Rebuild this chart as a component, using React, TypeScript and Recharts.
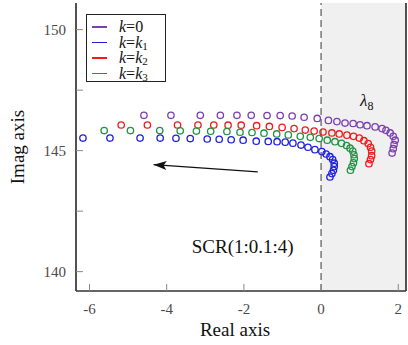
import {
  ScatterChart,
  Scatter,
  XAxis,
  YAxis,
  ReferenceArea,
  ReferenceLine,
  ReferenceDot,
  Legend,
} from 'recharts';

const FONT = '"Liberation Serif", serif';

const X_DOMAIN: [number, number] = [-6.35, 2.2];
const Y_DOMAIN: [number, number] = [139.2, 151.1];
const X_TICKS = [-6, -4, -2, 0, 2];
const Y_TICKS = [140, 142.5, 145, 147.5, 150];
const Y_LABELED = [140, 145, 150];

// eigenvalue trajectories, SCR swept 1:0.1:4
const K0 = [
  [-4.59, 146.46], [-3.89, 146.46], [-3.13, 146.46], [-2.61, 146.46], [-2.18, 146.46],
  [-1.81, 146.46], [-1.4, 146.45], [-1.06, 146.45], [-0.75, 146.43], [-0.44, 146.38],
  [-0.1, 146.33], [0.19, 146.25], [0.41, 146.2], [0.62, 146.14], [0.83, 146.12],
  [1.01, 146.07], [1.19, 146.03], [1.4, 145.98], [1.58, 145.91], [1.68, 145.84],
  [1.79, 145.73], [1.87, 145.59], [1.92, 145.43], [1.89, 145.25], [1.87, 145.08],
  [1.84, 144.9],
];
const K1 = [
  [-6.17, 145.52], [-5.47, 145.52], [-4.69, 145.52], [-4.17, 145.52], [-3.76, 145.51],
  [-3.39, 145.5], [-2.95, 145.48], [-2.64, 145.47], [-2.33, 145.45], [-2.02, 145.43],
  [-1.68, 145.39], [-1.37, 145.38], [-1.14, 145.37], [-0.93, 145.35], [-0.73, 145.31],
  [-0.52, 145.23], [-0.34, 145.14], [-0.16, 145.04], [0.02, 144.96], [0.13, 144.86],
  [0.23, 144.75], [0.3, 144.63], [0.34, 144.48], [0.34, 144.34], [0.32, 144.19],
  [0.28, 144.05], [0.23, 143.91],
];
const K2 = [
  [-5.18, 146.06], [-4.5, 146.06], [-3.72, 146.06], [-3.19, 146.06], [-2.78, 146.06],
  [-2.41, 146.05], [-2.07, 146.05], [-1.67, 146.03], [-1.34, 146.0], [-1.01, 145.96],
  [-0.7, 145.91], [-0.41, 145.85], [-0.18, 145.81], [0.05, 145.77], [0.28, 145.73],
  [0.47, 145.69], [0.67, 145.64], [0.84, 145.59], [0.99, 145.52], [1.11, 145.41],
  [1.22, 145.29], [1.28, 145.14], [1.31, 144.98], [1.31, 144.79], [1.28, 144.63],
  [1.24, 144.46],
];
const K3 = [
  [-5.62, 145.83], [-4.94, 145.83], [-4.18, 145.83], [-3.65, 145.82], [-3.23, 145.81],
  [-2.86, 145.8], [-2.44, 145.79], [-2.1, 145.76], [-1.79, 145.75], [-1.48, 145.72],
  [-1.15, 145.69], [-0.85, 145.65], [-0.54, 145.59], [-0.28, 145.55], [-0.05, 145.5],
  [0.16, 145.43], [0.36, 145.37], [0.53, 145.3], [0.66, 145.21], [0.75, 145.1],
  [0.82, 144.98], [0.85, 144.83], [0.86, 144.67], [0.84, 144.5], [0.8, 144.34],
  [0.76, 144.19],
];

const SERIES = [
  { key: 'k0', sub: '', color: '#7b3fae', pts: K0 },
  { key: 'k1', sub: '1', color: '#1f1fe0', pts: K1 },
  { key: 'k2', sub: '2', color: '#ee1c1c', pts: K2 },
  { key: 'k3', sub: '3', color: '#239244', pts: K3 },
];

// annotation anchors (data coords)
const ARROW = [
  { x: -1.64, y: 144.12 },
  { x: -4.34, y: 144.42 },
];
const LAMBDA_AT = { x: 1.01, y: 146.86 };
const SCR_AT = { x: -2.03, y: 140.79 };

const toRows = (pts: number[][]) => pts.map(([x, y]) => ({ x, y }));

const labelStyle = { fontSize: 15, fill: '#4a4a4a', fontFamily: FONT };
const frame = { stroke: '#333', strokeWidth: 1.7 };

const XTick = ({ x, y, payload }: any) => (
  <text x={x} y={y} dy="0.71em" textAnchor="middle" style={labelStyle}>
    {payload.value}
  </text>
);

const YTick = ({ x, y, payload }: any) =>
  Y_LABELED.includes(payload.value) ? (
    <text x={x} y={y} dy="0.355em" textAnchor="end" style={labelStyle}>
      {payload.value}
    </text>
  ) : (
    <g />
  );

function LegendBox() {
  return (
    <div
      style={{
        border: '1.3px solid #222',
        background: '#fff',
        width: 80,
        height: 68,
        padding: '4px 0 0 0',
        boxSizing: 'border-box',
        fontFamily: FONT,
        fontSize: 16,
        color: '#111',
      }}
    >
      {SERIES.map((s) => (
        <div key={s.key} style={{ display: 'flex', alignItems: 'center', height: 15.5, lineHeight: '15px' }}>
          <div style={{ width: 15, height: 1.5, background: s.color, marginLeft: 5, marginRight: 12 }} />
          <span style={{ whiteSpace: 'nowrap', fontFamily: FONT }}>
            <i>k</i>=
            {s.sub === '' ? '0' : <i>k</i>}
          </span>
          {s.sub !== '' && (
            <span style={{ fontSize: 11, position: 'relative', top: 4, fontFamily: FONT }}>{s.sub}</span>
          )}
        </div>
      ))}
    </div>
  );
}

export default function App() {
  return (
    <div style={{ position: 'absolute', left: 0, top: 0, fontFamily: FONT }}>
      <ScatterChart width={408} height={345} margin={{ top: 3, right: 0, bottom: 0, left: 0 }}>
        <XAxis
          type="number"
          dataKey="x"
          domain={X_DOMAIN}
          ticks={X_TICKS}
          allowDataOverflow
          height={54}
          axisLine={frame}
          tickLine={{ stroke: '#888' }}
          tickSize={-7}
          tickMargin={19}
          tick={<XTick />}
          label={{ value: 'Real axis', position: 'insideBottom', offset: 9, dx: -6, style: { fontSize: 19, fill: '#111', fontFamily: FONT } }}
        />
        <XAxis xAxisId="top" type="number" orientation="top" domain={X_DOMAIN} height={0} axisLine={frame} tick={false} tickLine={false} />
        <YAxis
          type="number"
          dataKey="y"
          domain={Y_DOMAIN}
          ticks={Y_TICKS}
          allowDataOverflow
          width={76}
          axisLine={frame}
          tickLine={{ stroke: '#888' }}
          tickSize={-7}
          tickMargin={17}
          tick={<YTick />}
          label={({ viewBox }: any) => (
            <text
              x={viewBox.x + 24}
              y={viewBox.y + viewBox.height / 2}
              transform={`rotate(-90 ${viewBox.x + 24} ${viewBox.y + viewBox.height / 2})`}
              textAnchor="middle"
              style={{ fontSize: 19, fill: '#111', fontFamily: FONT }}
            >
              Imag axis
            </text>
          )}
        />
        <YAxis
          yAxisId="right"
          type="number"
          orientation="right"
          domain={Y_DOMAIN}
          ticks={[145]}
          width={2}
          axisLine={frame}
          tickLine={{ stroke: '#555' }}
          tickSize={-7}
          tick={false}
        />

        <ReferenceArea x1={0} x2={X_DOMAIN[1]} fill="#f0f0f0" fillOpacity={1} stroke="none" />
        <ReferenceLine x={0} stroke="#777" strokeWidth={1.5} strokeDasharray="7 4" />

        {SERIES.map((s) => (
          <Scatter
            key={s.key}
            data={toRows(s.pts)}
            isAnimationActive={false}
            shape={(p: any) => (
              <circle cx={p.cx} cy={p.cy} r={3.2} fill="none" stroke={s.color} strokeWidth={1.3} />
            )}
          />
        ))}

        <Scatter
          data={ARROW}
          isAnimationActive={false}
          legendType="none"
          line={{ stroke: '#111', strokeWidth: 1.3 }}
          shape={(p: any) =>
            p.index === 1 ? (
              <polygon
                points={`${p.cx},${p.cy} ${p.cx + 13},${p.cy - 4.5} ${p.cx + 10},${p.cy} ${p.cx + 13},${p.cy + 4.5}`}
                transform={`rotate(4 ${p.cx} ${p.cy})`}
                fill="#111"
              />
            ) : (
              <g />
            )
          }
        />

        <ReferenceDot
          x={LAMBDA_AT.x}
          y={LAMBDA_AT.y}
          shape={(p: any) => (
            <text x={p.cx} y={p.cy} style={{ fontSize: 17, fill: '#111', fontFamily: FONT }}>
              <tspan fontStyle="italic">λ</tspan>
              <tspan dy={4} fontSize={12}>8</tspan>
            </text>
          )}
        />
        <ReferenceDot
          x={SCR_AT.x}
          y={SCR_AT.y}
          shape={(p: any) => (
            <text x={p.cx} y={p.cy} textAnchor="middle" style={{ fontSize: 19, fill: '#111', fontFamily: FONT }}>
              SCR(1:0.1:4)
            </text>
          )}
        />

        <Legend
          layout="vertical"
          align="center"
          verticalAlign="middle"
          content={() => <LegendBox />}
          wrapperStyle={{ left: 86, top: 14, width: 'auto' }}
        />
      </ScatterChart>
    </div>
  );
}
